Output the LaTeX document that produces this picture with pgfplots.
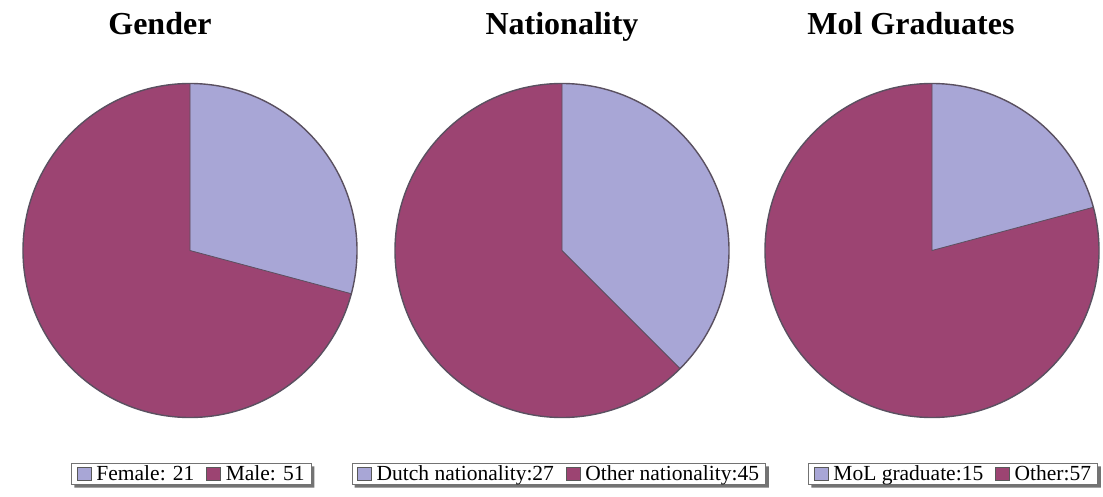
\documentclass[border=0pt]{standalone}
\usepackage{pgfplots}
\pgfplotsset{compat=1.18}
\usepackage{pgfplotstable}
\usepackage{fontspec}
\setmainfont{Liberation Serif}

\definecolor{lilac}{HTML}{A8A6D6}
\definecolor{plum}{HTML}{9C4472}
\definecolor{edge}{HTML}{5A5060}

% counts per pie
\pgfplotstableread{
label count
Female 21
Male 51
}\gender
\pgfplotstableread{
label count
Dutch 27
Other 45
}\nation
\pgfplotstableread{
label count
MoL 15
Other 57
}\mol

% end angle of the first slice, clockwise from 12 o'clock
\newcommand{\sliceangle}[2]{%
  \pgfplotstablegetelem{0}{count}\of#1\let\va\pgfplotsretval
  \pgfplotstablegetelem{1}{count}\of#1\let\vb\pgfplotsretval
  \pgfmathsetmacro#2{90-360*\va/(\va+\vb)}%
}
\sliceangle{\gender}{\aA}
\sliceangle{\nation}{\aB}
\sliceangle{\mol}{\aC}

\pgfplotsset{
  pie/.style={
    scale only axis, width=334pt, height=334pt,
    xmin=-1, xmax=1, ymin=-1, ymax=1,
    hide axis, anchor=center, clip=false,
    title style={font=\bfseries\fontsize{32}{34}\selectfont, anchor=base, inner sep=0pt},
    legend columns=2,
    legend style={draw=black!55, fill=white, anchor=center,
      font=\fontsize{21.5}{23}\selectfont, inner xsep=5.5pt, inner ysep=1.2pt,
      nodes={inner xsep=1pt, inner ysep=1pt},
      /tikz/every odd column/.append style={column sep=4pt},
      /tikz/every even column/.append style={column sep=11pt}},
    legend image code/.code={\draw[##1] (0pt,-6pt) rectangle (14pt,6.5pt);},
  },
}

\newcommand{\drawpie}[1]{%
  \fill[lilac] (axis cs:0,0) -- (axis cs:0,1) arc[start angle=90, end angle=#1, radius=1] -- cycle;
  \fill[plum] (axis cs:0,0) -- (axis cs:{cos(#1)},{sin(#1)}) arc[start angle=#1, end angle=-270, radius=1] -- cycle;
  \draw[edge, line width=0.8pt] (axis cs:0,1) -- (axis cs:0,0) -- (axis cs:{cos(#1)},{sin(#1)});
  \draw[edge, line width=1.4pt] (axis cs:0,0) circle[radius=1];
}

% grey shadow along the right and bottom of a legend box
\newcommand{\legshadow}[1]{%
  \fill[black!55] ([xshift=3pt]#1.south west) -- ([xshift=3pt,yshift=-3pt]#1.south west)
    -- ([xshift=3pt,yshift=-3pt]#1.south east) -- ([xshift=3pt,yshift=-3pt]#1.north east)
    -- ([yshift=-3pt]#1.north east) -- (#1.south east) -- cycle;
}

\begin{document}
\begin{tikzpicture}
\path[use as bounding box] (0pt,0pt) rectangle (1103pt,496pt);

\begin{axis}[pie, at={(190pt,245.5pt)},
  title=Gender, title style={at={(0.41,1.128)}, anchor=base},
  legend style={at={(0.504,-0.169)}, name=legA}]
\addlegendimage{fill=lilac, draw=black!65}
\addlegendentry{Female: 21}
\addlegendimage{fill=plum, draw=black!65}
\addlegendentry{Male: 51}
\drawpie{\aA}
\end{axis}
\legshadow{legA}

\begin{axis}[pie, at={(562pt,245.5pt)},
  title=Nationality, title style={at={(0.5,1.128)}, anchor=base},
  legend style={at={(0.49,-0.169)}, name=legB}]
\addlegendimage{fill=lilac, draw=black!65}
\addlegendentry{Dutch nationality:27}
\addlegendimage{fill=plum, draw=black!65}
\addlegendentry{Other nationality:45}
\drawpie{\aB}
\end{axis}
\legshadow{legB}

\begin{axis}[pie, at={(932pt,245.5pt)},
  title=Mol Graduates, title style={at={(0.437,1.128)}, anchor=base},
  legend style={at={(0.563,-0.169)}, name=legC}]
\addlegendimage{fill=lilac, draw=black!65}
\addlegendentry{MoL graduate:15}
\addlegendimage{fill=plum, draw=black!65}
\addlegendentry{Other:57}
\drawpie{\aC}
\end{axis}
\legshadow{legC}
\end{tikzpicture}
\end{document}
